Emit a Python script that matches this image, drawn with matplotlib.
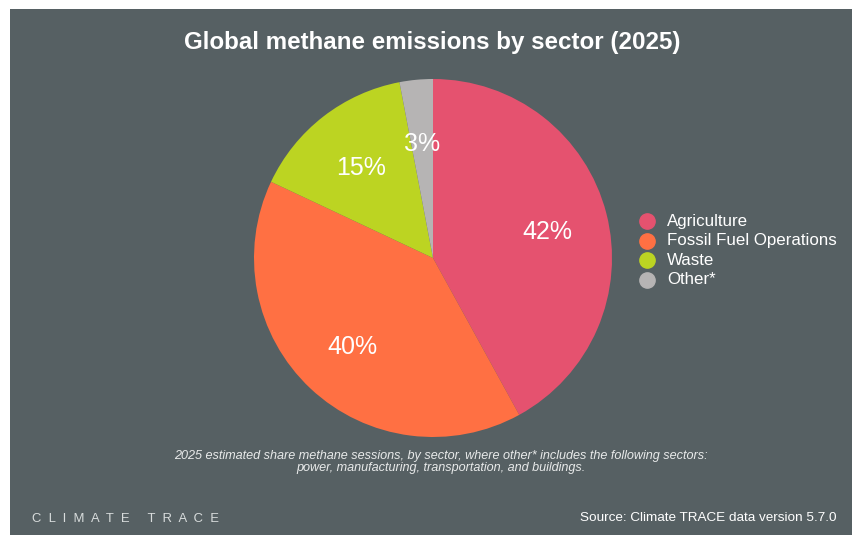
import matplotlib.pyplot as plt
from matplotlib.patches import Rectangle
from matplotlib.lines import Line2D

plt.rcParams['font.family'] = ['Liberation Sans', 'DejaVu Sans']

sectors = ['Agriculture', 'Fossil Fuel Operations', 'Waste', 'Other*']
shares = [42, 40, 15, 3]
colors = ['#e5526f', '#ff7043', '#bcd422', '#b6b4b4']

bg = '#566063'

fig = plt.figure(figsize=(8.52, 5.35), dpi=100)
fig.patch.set_facecolor('white')
fig.patches.append(Rectangle((10 / 852, 0), 1, 1 - 9 / 535, transform=fig.transFigure,
                             facecolor=bg, edgecolor='none', zorder=-1))

# pie centred at (433, 258) px with radius ~179 px
cx, cy, r = 433, 258, 179
ax = fig.add_axes([(cx - r) / 852, 1 - (cy + r) / 535, 2 * r / 852, 2 * r / 535])
wedges, texts, autotexts = ax.pie(
    shares, colors=colors, startangle=90, counterclock=False,
    autopct=lambda p: f'{p:.0f}%', pctdistance=0.66,
    wedgeprops=dict(linewidth=0),
    textprops=dict(color='white', fontsize=18))
for t in autotexts:
    x, y = t.get_position()
    t.set_position((x, y - 0.018))
ax.set_xlim(-1, 1)
ax.set_ylim(-1, 1)
ax.set_aspect('equal')

fig.text(432 / 852, 1 - 43 / 535, 'Global methane emissions by sector (2025)',
         ha='center', va='center', color='white', fontsize=17.4, fontweight='bold')

# legend
for i, (name, c) in enumerate(zip(sectors, colors)):
    y = 1 - (221 + i * 19.5) / 535
    fig.add_artist(Line2D([647 / 852], [y], marker='o', markersize=11,
                          color=c, linestyle='none', transform=fig.transFigure))
    fig.text(667 / 852, y, name, ha='left', va='center', color='white', fontsize=12.2)

fig.text(441 / 852, 1 - 462 / 535,
         '2025 estimated share methane sessions, by sector, where other* includes the following sectors:\n'
         'power, manufacturing, transportation, and buildings.',
         ha='center', va='center', color='#e8eaea', fontsize=9.1, style='italic',
         linespacing=1.1)

fig.text(32 / 852, 1 - 519 / 535, 'C  L  I  M  A  T  E     T  R  A  C  E', ha='left', va='center',
         color='#d8dcdc', fontsize=9.4)
fig.text(836 / 852, 1 - 518 / 535, 'Source: Climate TRACE data version 5.7.0',
         ha='right', va='center', color='white', fontsize=9.7)

fig.savefig('out.png', dpi=100, facecolor=fig.get_facecolor())
